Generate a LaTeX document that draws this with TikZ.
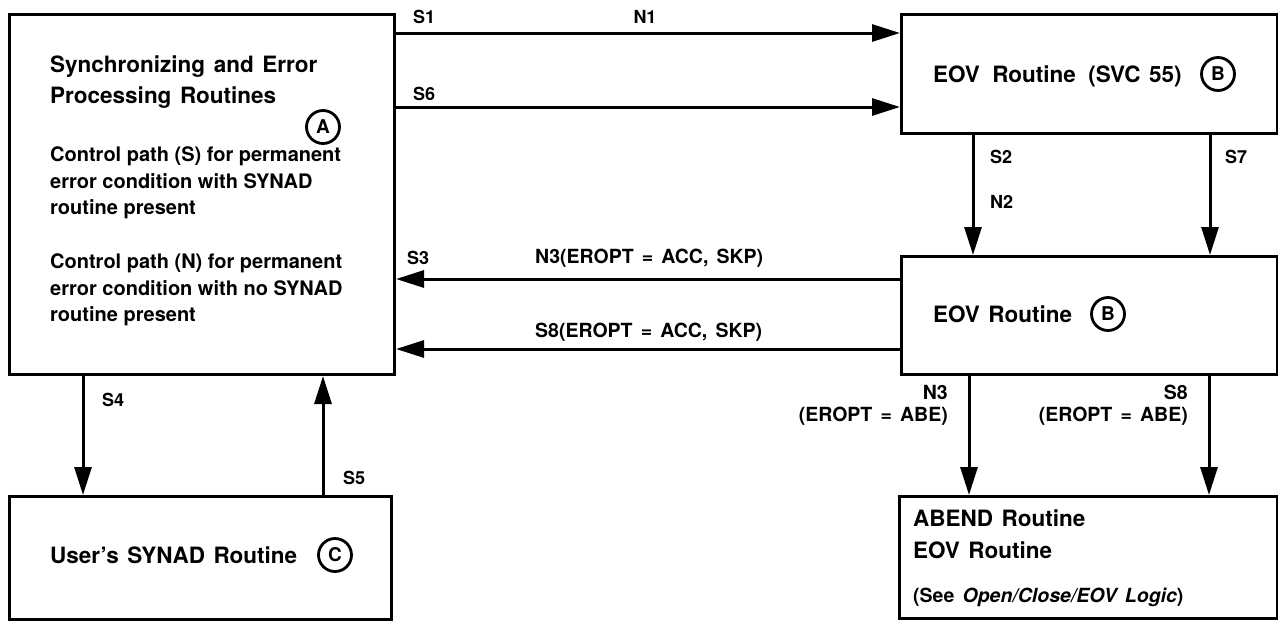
\documentclass[tikz,border=0pt]{standalone}
\usepackage{fontspec}
\setmainfont{TeX Gyre Heros}
\usetikzlibrary{arrows.meta}
\newcommand\mytitlefont{\fontsize{22.5}{31}\selectfont\bfseries\spaceskip=0.38em\relax}
\newcommand\myabendfont{\fontsize{22.5}{32}\selectfont\bfseries\spaceskip=0.38em\relax}
\newcommand\mywidefont{\fontsize{19.5}{26}\selectfont\bfseries\spaceskip=0.42em\relax}
\newcommand\mypairfont{\fontsize{19.5}{22}\selectfont\bfseries\spaceskip=0.42em\relax}
\begin{document}
\begin{tikzpicture}[x=1pt,y=-1pt,
 box/.style={draw, line width=3pt, inner sep=0pt, anchor=north west},
 arr/.style={line width=3pt, -{Triangle[length=28pt,width=17pt]}},
 lbl/.style={font=\fontsize{18}{20}\selectfont\bfseries, inner sep=0pt},
 wlbl/.style={font=\mywidefont, inner sep=0pt},
 plbl/.style={font=\mypairfont, inner sep=0pt, anchor=east, align=right},
 title/.style={font=\mytitlefont, inner sep=0pt, align=left, anchor=west},
 txt/.style={font=\fontsize{20}{26.7}\selectfont\bfseries, inner sep=0pt, align=left, anchor=west},
 letterc/.style={circle, draw, line width=2.8pt, minimum size=33pt, inner sep=0pt, font=\fontsize{19}{19}\selectfont\bfseries}
]
\useasboundingbox (0,0) rectangle (1278,622);
% boxes
\node[box, minimum width=385pt, minimum height=360pt] (A) at (8,13) {};
\node[box, minimum width=382pt, minimum height=123pt] (C) at (8,495) {};
\node[box, minimum width=376pt, minimum height=119pt] (B1) at (900,13) {};
\node[box, minimum width=376pt, minimum height=118pt] (B2) at (900,255) {};
\node[box, minimum width=378pt, minimum height=122pt] (D) at (898,495) {};
% coordinates for connector rows/columns
\coordinate (r1) at (0,33);
\coordinate (r6) at (0,107);
\coordinate (r3) at (0,279);
\coordinate (r8) at (0,349);
\coordinate (c4) at (83,0);
\coordinate (c5) at (323,0);
\coordinate (c2) at (973,0);
\coordinate (c7) at (1210,0);
\coordinate (cn3) at (969,0);
\coordinate (cs8) at (1209,0);
% connectors
\draw[arr] (A.east |- r1) -- (B1.west |- r1);
\draw[arr] (A.east |- r6) -- (B1.west |- r6);
\draw[arr] (B1.south -| c2) -- (B2.north -| c2);
\draw[arr] (B1.south -| c7) -- (B2.north -| c7);
\draw[arr] (B2.west |- r3) -- (A.east |- r3);
\draw[arr] (B2.west |- r8) -- (A.east |- r8);
\draw[arr] (A.south -| c4) -- (C.north -| c4);
\draw[arr] (C.north -| c5) -- (A.south -| c5);
\draw[arr] (B2.south -| cn3) -- (D.north -| cn3);
\draw[arr] (B2.south -| cs8) -- (D.north -| cs8);
% texts in box A
\node[title] (tA) at (50,82) {Synchronizing and Error\\Processing Routines};
\node[letterc] (cA) at (323,127) {A};
\node[txt] (tS) at (50,183) {Control path (S) for permanent\\error condition with SYNAD\\routine present};
\node[txt] (tN) at (50,290) {Control path (N) for permanent\\error condition with no SYNAD\\routine present};
% box B1
\node[title] (tB1) at (933,76) {EOV\hspace{0.55em}Routine\hspace{0.55em}(SVC 55)};
\node[letterc] (cB1) at (1218,74) {B};
% box B2
\node[title] (tB2) at (933,314) {EOV Routine};
\node[letterc] (cB2) at (1108,314) {B};
% box C
\node[title] (tC) at (50,555) {User's SYNAD Routine};
\node[letterc] (cC) at (335,555) {C};
% box D
\node[title, font=\myabendfont] (tD) at (913,534) {ABEND Routine\\EOV Routine};
\node[wlbl, anchor=west] (tD2) at (913,597) {(See \textit{Open/Close/EOV Logic})};
% labels
\node[lbl, anchor=west] (lS1) at (413,17) {S1};
\node[lbl] (lN1) at (645,17) {N1};
\node[lbl, anchor=west] (lS6) at (413,94) {S6};
\node[lbl, anchor=west] (lS2) at (990,157) {S2};
\node[lbl, anchor=west] (lN2) at (990,202) {N2};
\node[lbl, anchor=west] (lS7) at (1225,157) {S7};
\node[lbl, anchor=west] (lS3) at (407,258) {S3};
\node[wlbl, anchor=west] (lN3a) at (535,258) {N3(EROPT = ACC, SKP)};
\node[wlbl, anchor=west] (lS8a) at (535,332) {S8(EROPT = ACC, SKP)};
\node[lbl, anchor=west] (lS4) at (102,400) {S4};
\node[lbl, anchor=west] (lS5) at (343,478) {S5};
\node[plbl] (lN3b) at (948,405) {N3\\(EROPT = ABE)};
\node[plbl] (lS8b) at (1188,405) {S8\\(EROPT = ABE)};
\end{tikzpicture}
\end{document}
